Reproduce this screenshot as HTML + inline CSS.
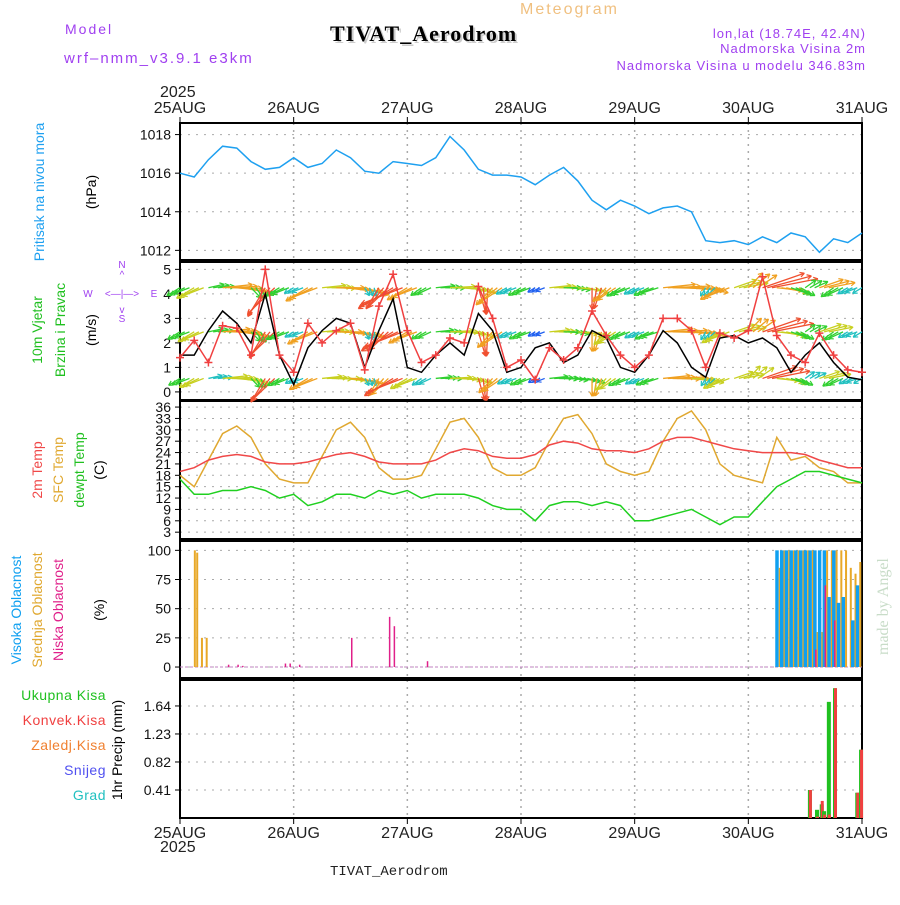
<!DOCTYPE html>
<html><head><meta charset="utf-8"><style>
body{margin:0;background:#fff}
svg{font-family:"Liberation Sans",sans-serif}
</style></head><body>
<svg id="c" width="900" height="900" xmlns="http://www.w3.org/2000/svg">
<text x="65" y="34" fill="#a040f0" font-size="14" letter-spacing="2">Model</text>
<text x="64" y="63" fill="#a040f0" font-size="15" letter-spacing="2">wrf–nmm_v3.9.1  e3km</text>
<text x="332" y="43" fill="#ccc" font-size="22" font-weight="bold" font-family="Liberation Serif" letter-spacing="1">TIVAT_Aerodrom</text>
<text x="330" y="41" fill="#000" font-size="22" font-weight="bold" font-family="Liberation Serif" letter-spacing="1">TIVAT_Aerodrom</text>
<text x="520" y="14" fill="#f0c080" font-size="16" letter-spacing="2">Meteogram</text>
<text x="866" y="38" fill="#a040f0" font-size="13" text-anchor="end" letter-spacing="1">lon,lat (18.74E, 42.4N)</text>
<text x="866" y="53" fill="#a040f0" font-size="13" text-anchor="end" letter-spacing="1">Nadmorska Visina 2m</text>
<text x="866" y="70" fill="#a040f0" font-size="13" text-anchor="end" letter-spacing="1">Nadmorska Visina u modelu 346.83m</text>
<text x="160" y="97" font-size="16" fill="#222">2025</text>
<text x="160" y="852" font-size="16" fill="#222">2025</text>
<text x="330" y="875" font-size="14" font-family="Liberation Mono" fill="#222">TIVAT_Aerodrom</text>
<text transform="translate(888,655) rotate(-90)" font-size="16" fill="#c8dcc8" font-family="Liberation Serif">made by Angel</text>
<g id="g"></g>
</svg>
<script>
const days=['25AUG','26AUG','27AUG','28AUG','29AUG','30AUG','31AUG'];
const pressure=[1016.0,1015.8,1016.7,1017.4,1017.3,1016.6,1016.2,1016.3,1016.8,1016.3,1016.5,1017.2,1016.8,1016.1,1016.0,1016.6,1016.5,1016.4,1016.8,1017.9,1017.2,1016.2,1015.9,1015.9,1015.8,1015.4,1015.9,1016.3,1015.6,1014.6,1014.1,1014.6,1014.3,1013.9,1014.2,1014.3,1014.0,1012.5,1012.4,1012.5,1012.3,1012.7,1012.4,1012.9,1012.7,1011.9,1012.6,1012.4,1012.9];
const windSpeed=[1.5,1.5,2.5,3.3,2.8,2,4,1.5,0.3,1.8,2.5,3,2.8,1,2.5,3.8,1.0,0.8,1.5,2,1.5,3.2,2.5,0.8,1.0,1.8,2,1.2,1.5,2.5,2.2,1.0,0.8,1.5,2.5,2.0,1.0,0.6,2.2,2.3,2.0,2.2,1.8,0.8,1.5,2,1.2,0.6,0.5];
const windGust=[1.4,2.1,1.2,2.7,2.6,1.5,5,1.5,0.8,2.8,2,2.5,2.8,0.9,3.5,4.8,2.5,1.2,1.5,2.2,2,4.3,3,1,1.3,0.5,1.8,1.3,1.8,3.3,2.3,1.5,1,1.5,3.0,3,2.5,1,2.4,2.2,2.5,4.7,2.3,1.5,1.2,2.4,1.5,0.9,0.8];
const windDir=[225,225,70,80,100,150,200,225,225,225,80,90,100,160,200,225,225,220,80,85,100,170,210,225,225,225,80,90,100,180,210,225,225,230,80,85,95,200,225,60,30,60,100,120,40,60,220,225,225];
const temp2m=[19,20,22,23,23.5,23,21.5,21,21,21.5,22.5,23.5,24,23,21.5,21,21,21,22,24,25,24.5,23,22.5,22.5,23.5,26,27,26.5,25,24.5,24.5,24,25,27,28,28,27,26,25,24.5,24,24,24,23.5,22,21,20,20];
const tempSfc=[18,15,22,29,31,28,21,17,16,16,23,30,32,28,20,17,17,18,25,32,33,28,20,18,18,20,27,33,34,29,21,19,18,19,27,33,35,30,21,18,17,16,28,22,23,20,19,16,16];
const dewpt=[17,13,13,14,14,15,14,12,13,10,11,13,13,12,14,13,14,12,13,13,13,12,10,9,9,6,10,11,11,10,11,10,6,6,7,8,9,7,5,7,7,11,15,17,19,19,18,17,16];
const cloudHour=[2.5,3,4,5,10,12,13,22,23,25,36,44,45,52,126,127,128,129,130,131,132,133,134,135,136,137,138,139,140,141,142,143];
const cloudHigh=[0,0,0,0,0,0,0,0,0,0,0,0,0,0,100,100,100,100,100,100,100,100,100,100,100,60,100,55,60,0,40,70];
const cloudMid=[100,98,25,25,0,0,0,0,0,0,0,0,0,0,85,100,100,100,100,100,100,100,30,30,100,100,100,100,100,85,80,90];
const cloudLow=[0,0,0,0,2,2,1,3,3,2,25,43,35,5,0,0,0,0,0,0,0,0,15,0,70,0,40,0,0,0,0,0];
const precipHour=[133,134.5,135.5,136,137,138.3,143,143.8];
const precipTotal=[0.41,0.12,0.2,0.1,1.7,1.9,0.37,1.0];
const precipConv=[0.41,0.02,0.25,0.05,0.05,1.9,0.37,1.0];

const G=document.getElementById('g');const NS='http://www.w3.org/2000/svg';
function mk(t,a,p){const e=document.createElementNS(NS,t);for(const k in a)e.setAttribute(k,a[k]);(p||G).appendChild(e);return e;}
const X0=180,X1=862;const xH=h=>X0+(X1-X0)*h/144;const xI=i=>xH(i*3);
const panels=[{t:123,b:260,y0:1011.5,y1:1018.6,ticks:[1012,1014,1016,1018],fmt:v=>v},
{t:262,b:400,y0:-0.33,y1:5.3,ticks:[0,1,2,3,4,5],fmt:v=>v},
{t:401,b:539,y0:1.2,y1:37.6,ticks:[3,6,9,12,15,18,21,24,27,30,33,36],fmt:v=>v},
{t:541,b:678,y0:-9.4,y1:108,ticks:[0,25,50,75,100],fmt:v=>v},
{t:680,b:818,y0:0,y1:2.02,ticks:[0.41,0.82,1.23,1.64],fmt:v=>v.toFixed(2)}];
panels.forEach(p=>p.y=v=>p.b-(v-p.y0)/(p.y1-p.y0)*(p.b-p.t));
panels.forEach((p,k)=>{
 const gr=mk('g',{});
 p.ticks.forEach(v=>{const y=p.y(v);mk('line',{x1:X0,x2:X1,y1:y,y2:y,stroke:'#aaa','stroke-dasharray':'2 6'},gr);
  mk('line',{x1:X0-5,x2:X0,y1:y,y2:y,stroke:'#000'},gr);
  const t=mk('text',{x:X0-9,y:y+5,'font-size':14,'text-anchor':'end',fill:'#111'},gr);t.textContent=p.fmt(v);});
 days.forEach((d,i)=>{const x=xH(i*24);mk('line',{x1:x,x2:x,y1:p.t,y2:p.b,stroke:'#aaa','stroke-dasharray':'2 5','stroke-width':1.5},gr);});
 mk('rect',{x:X0,y:p.t,width:X1-X0,height:p.b-p.t,fill:'none',stroke:'#000','stroke-width':2},gr);
});
days.forEach((d,i)=>{const x=xH(i*24);
 let t=mk('text',{x:x,y:113,'font-size':16,'text-anchor':'middle',fill:'#222'});t.textContent=d;
 t=mk('text',{x:x,y:838,'font-size':16,'text-anchor':'middle',fill:'#222'});t.textContent=d;
 mk('line',{x1:x,x2:x,y1:117,y2:123,stroke:'#000'});mk('line',{x1:x,x2:x,y1:818,y2:824,stroke:'#000'});});
function line(arr,p,col,w,name){const d=arr.map((v,i)=>(i?'L':'M')+xI(i).toFixed(1)+' '+p.y(v).toFixed(1)).join('');const e=mk('path',{d:d,fill:'none',stroke:col,'stroke-width':w});return e;}
line(pressure,panels[0],'#1ea0f0',1.5,'pressure-line');
function spdCol(s){return s>3?'#f05030':s>2.2?'#f0a020':s>1.5?'#c8d020':s>1?'#30d030':s>0.6?'#20c0c0':'#2060f0';}
[4.25,2.45,0.55].forEach((lev,r)=>{const p=panels[1];const y=p.y(lev);
 windDir.forEach((dd,i)=>{[0,1,2].forEach(o=>{if(i==48&&o>0)return;const s=windGust[i]*(1-r*0.1);const L=6+s*9;const a=(dd+o*6)*Math.PI/180;
  const x=xH(i*3+o);const x2=x+L*Math.sin(a),y2=y-L*Math.cos(a)*0.6;const c=spdCol(s);
  const ar=mk('line',{x1:x,y1:y,x2:x2,y2:y2,stroke:c,'stroke-width':1.3});
  const an=Math.atan2(y2-y,x2-x);[0.5,-0.5].forEach(q=>mk('line',{x1:x2,y1:y2,x2:x2-5*Math.cos(an+q),y2:y2-5*Math.sin(an+q),stroke:c,'stroke-width':1.2}));});});});
line(windSpeed,panels[1],'#000',1.5,'wind-speed-line');
line(windGust,panels[1],'#f04040',1.5,'wind-gust-line');
windGust.forEach((v,i)=>{const x=xI(i),y=panels[1].y(v);const m=mk('path',{d:`M${x-4} ${y}h8M${x} ${y-4}v8`,stroke:'#f04040','stroke-width':1.5});});
line(tempSfc,panels[2],'#e0a830',1.5,'sfc-temp-line');
line(temp2m,panels[2],'#f04848',1.5,'2m-temp-line');
line(dewpt,panels[2],'#20d020',1.5,'dewpoint-line');
const p4=panels[3];mk('line',{x1:X0,x2:X1,y1:p4.y(0),y2:p4.y(0),stroke:'#c080c0','stroke-dasharray':'3 2'});
cloudHour.forEach((h,i)=>{const x=xH(h);
 [[cloudHigh[i],'#10a0f0',-1.5,3.5],[cloudMid[i],'#e8a828',2,2],[cloudLow[i],'#e0208a',0.5,1.5]].forEach(([v,c,o,w])=>{if(v<=0)return;
  const b=mk('rect',{x:x+o,y:p4.y(v),width:w,height:p4.y(0)-p4.y(v),fill:c});});});
const p5=panels[4];
precipHour.forEach((h,i)=>{const x=xH(h);
 let b=mk('rect',{x:x-2,y:p5.y(precipTotal[i]),width:4,height:p5.y(0)-p5.y(precipTotal[i]),fill:'#20c020'});
 b=mk('rect',{x:x-1,y:p5.y(precipConv[i]),width:3,height:p5.y(0)-p5.y(precipConv[i]),fill:'#f04040'});});
function vt(x,y,txt,col,name,fs){const t=mk('text',{transform:`translate(${x},${y}) rotate(-90)`,'text-anchor':'middle','font-size':fs||14,fill:col});t.textContent=txt;}
vt(44,192,'Pritisak na nivou mora','#1ea0f0','pressure-title');vt(96,192,'(hPa)','#000','pressure-unit');
vt(42,330,'10m Vjetar','#20c020','wind-title-1');vt(65,330,'Brzina i Pravac','#20c020','wind-title-2');vt(96,330,'(m/s)','#000','wind-unit');
vt(42,470,'2m Temp','#f04848','temp-title');vt(63,470,'SFC Temp','#e0a830','sfc-title');vt(84,470,'dewpt Temp','#20c020','dew-title');vt(104,470,'(C)','#000','temp-unit');
vt(21,610,'Visoka Oblacnost','#10a0f0','high-cloud-title');vt(42,610,'Srednja Oblacnost','#e0a830','mid-cloud-title');vt(63,610,'Niska Oblacnost','#e0208a','low-cloud-title');vt(104,610,'(%)','#000','cloud-unit');
vt(122,750,'1hr Precip (mm)','#000','precip-title');
[['Ukupna Kisa','#20c020',700],['Konvek.Kisa','#f04040',725],['Zaledj.Kisa','#f08030',750],['Snijeg','#5050f0',775],['Grad','#20c0c0',800]].forEach(([t,c,y])=>{const e=mk('text',{x:106,y:y,'text-anchor':'end','font-size':14,fill:c,'letter-spacing':0.5});e.textContent=t;});
const cp=mk('g',{fill:'#a040f0','font-size':10,'text-anchor':'middle'});
[['N',122,268],['S',122,322],['W',88,297],['E',154,297],['<—|—>',122,297],['^',122,278],['v',122,313]].forEach(([t,x,y])=>{const e=mk('text',{x:x,y:y},cp);e.textContent=t;});
</script>
</body></html>
